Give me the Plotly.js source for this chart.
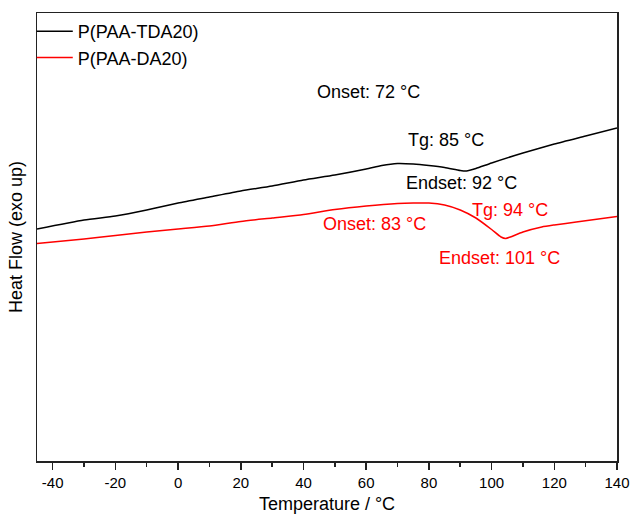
<!DOCTYPE html>
<html>
<head>
<meta charset="utf-8">
<script src="https://cdn.plot.ly/plotly-3.0.1.min.js"></script>
<style>html,body{margin:0;padding:0;background:#fff;}#chart{width:632px;height:514px;}</style>
</head>
<body>
<div id="chart"></div>
<script>
// Temperature (°C) and heat flow (a.u.)
const tempTDA = [-45, -30, -20, -10, 0, 10, 20, 30, 40, 50, 60, 65, 70, 75, 80, 85, 90, 92, 95, 100, 110, 120, 130, 140];
const flowTDA = [2.32, 2.41, 2.45, 2.51, 2.58, 2.64, 2.70, 2.75, 2.81, 2.86, 2.92, 2.955, 2.975, 2.97, 2.955, 2.935, 2.905, 2.90, 2.925, 2.98, 3.08, 3.17, 3.25, 3.33];
const tempDA = [-45, -30, -20, -10, 0, 10, 20, 30, 40, 50, 60, 70, 75, 80, 85, 90, 95, 100, 103, 104.5, 106, 110, 116, 120, 127, 140];
const flowDA = [2.175, 2.22, 2.255, 2.29, 2.32, 2.35, 2.395, 2.43, 2.465, 2.515, 2.55, 2.575, 2.58, 2.58, 2.56, 2.51, 2.43, 2.315, 2.24, 2.225, 2.24, 2.29, 2.34, 2.36, 2.39, 2.445];
const seriesNames = ["P(PAA-TDA20)", "P(PAA-DA20)"];
const tickValues = [-40, -20, 0, 20, 40, 60, 80, 100, 120, 140];
const tickLabels = ["-40", "-20", "0", "20", "40", "60", "80", "100", "120", "140"];
const labelTexts = ["Onset: 72 °C", "Tg: 85 °C", "Endset: 92 °C", "Onset: 83 °C", "Tg: 94 °C", "Endset: 101 °C"];
const labelX = [60.6, 85.5, 90.4, 62.6, 106, 102.6];
const labelY = [3.693, 3.21, 2.777, 2.37, 2.51, 2.027];
const labelColors = ["#000000", "#000000", "#000000", "#ff0000", "#ff0000", "#ff0000"];

const font = "Liberation Sans, Arial, sans-serif";
const traces = [
  {x: tempTDA, y: flowTDA, name: seriesNames[0], mode: "lines", line: {color: "#000000", width: 1.5, shape: "spline", smoothing: 0.6}},
  {x: tempDA, y: flowDA, name: seriesNames[1], mode: "lines", line: {color: "#ff0000", width: 1.5, shape: "spline", smoothing: 0.6}}
];
const annotations = labelTexts.map((t, i) => ({
  x: labelX[i], y: labelY[i], xref: "x", yref: "y", text: t, showarrow: false,
  xanchor: "center", yanchor: "middle", font: {family: font, size: 18, color: labelColors[i]}
}));
const layout = {
  width: 632, height: 514,
  margin: {l: 37, r: 15, t: 13, b: 53},
  paper_bgcolor: "#fff", plot_bgcolor: "#fff",
  font: {family: font, color: "#000"},
  showlegend: true,
  legend: {x: -0.009, y: 1, xanchor: "left", yanchor: "top", bgcolor: "rgba(0,0,0,0)",
           font: {family: font, size: 18, color: "#000"}, itemwidth: 36, tracegroupgap: 0},
  xaxis: {
    range: [-45, 140], tickmode: "array", tickvals: tickValues, ticktext: tickLabels,
    ticks: "outside", ticklen: 7, tickwidth: 1.5, tickcolor: "#222",
    minor: {dtick: 10, tick0: 0, ticks: "outside", ticklen: 4, tickwidth: 1.5, tickcolor: "#222"},
    showgrid: false, zeroline: false, showline: true, linecolor: "#222", linewidth: 1.5, mirror: true,
    tickfont: {family: font, size: 15, color: "#000"},
    title: {text: "Temperature / °C", font: {family: font, size: 18, color: "#000"}, standoff: 12}
  },
  yaxis: {
    range: [0, 4.48], showticklabels: false, ticks: "", showgrid: false, zeroline: false,
    showline: true, linecolor: "#222", linewidth: 1.5, mirror: true,
    title: {text: "Heat Flow (exo up)", font: {family: font, size: 18, color: "#000"}, standoff: 8}
  },
  annotations: annotations
};
Plotly.newPlot("chart", traces, layout, {displayModeBar: false, staticPlot: true});
</script>
</body>
</html>
